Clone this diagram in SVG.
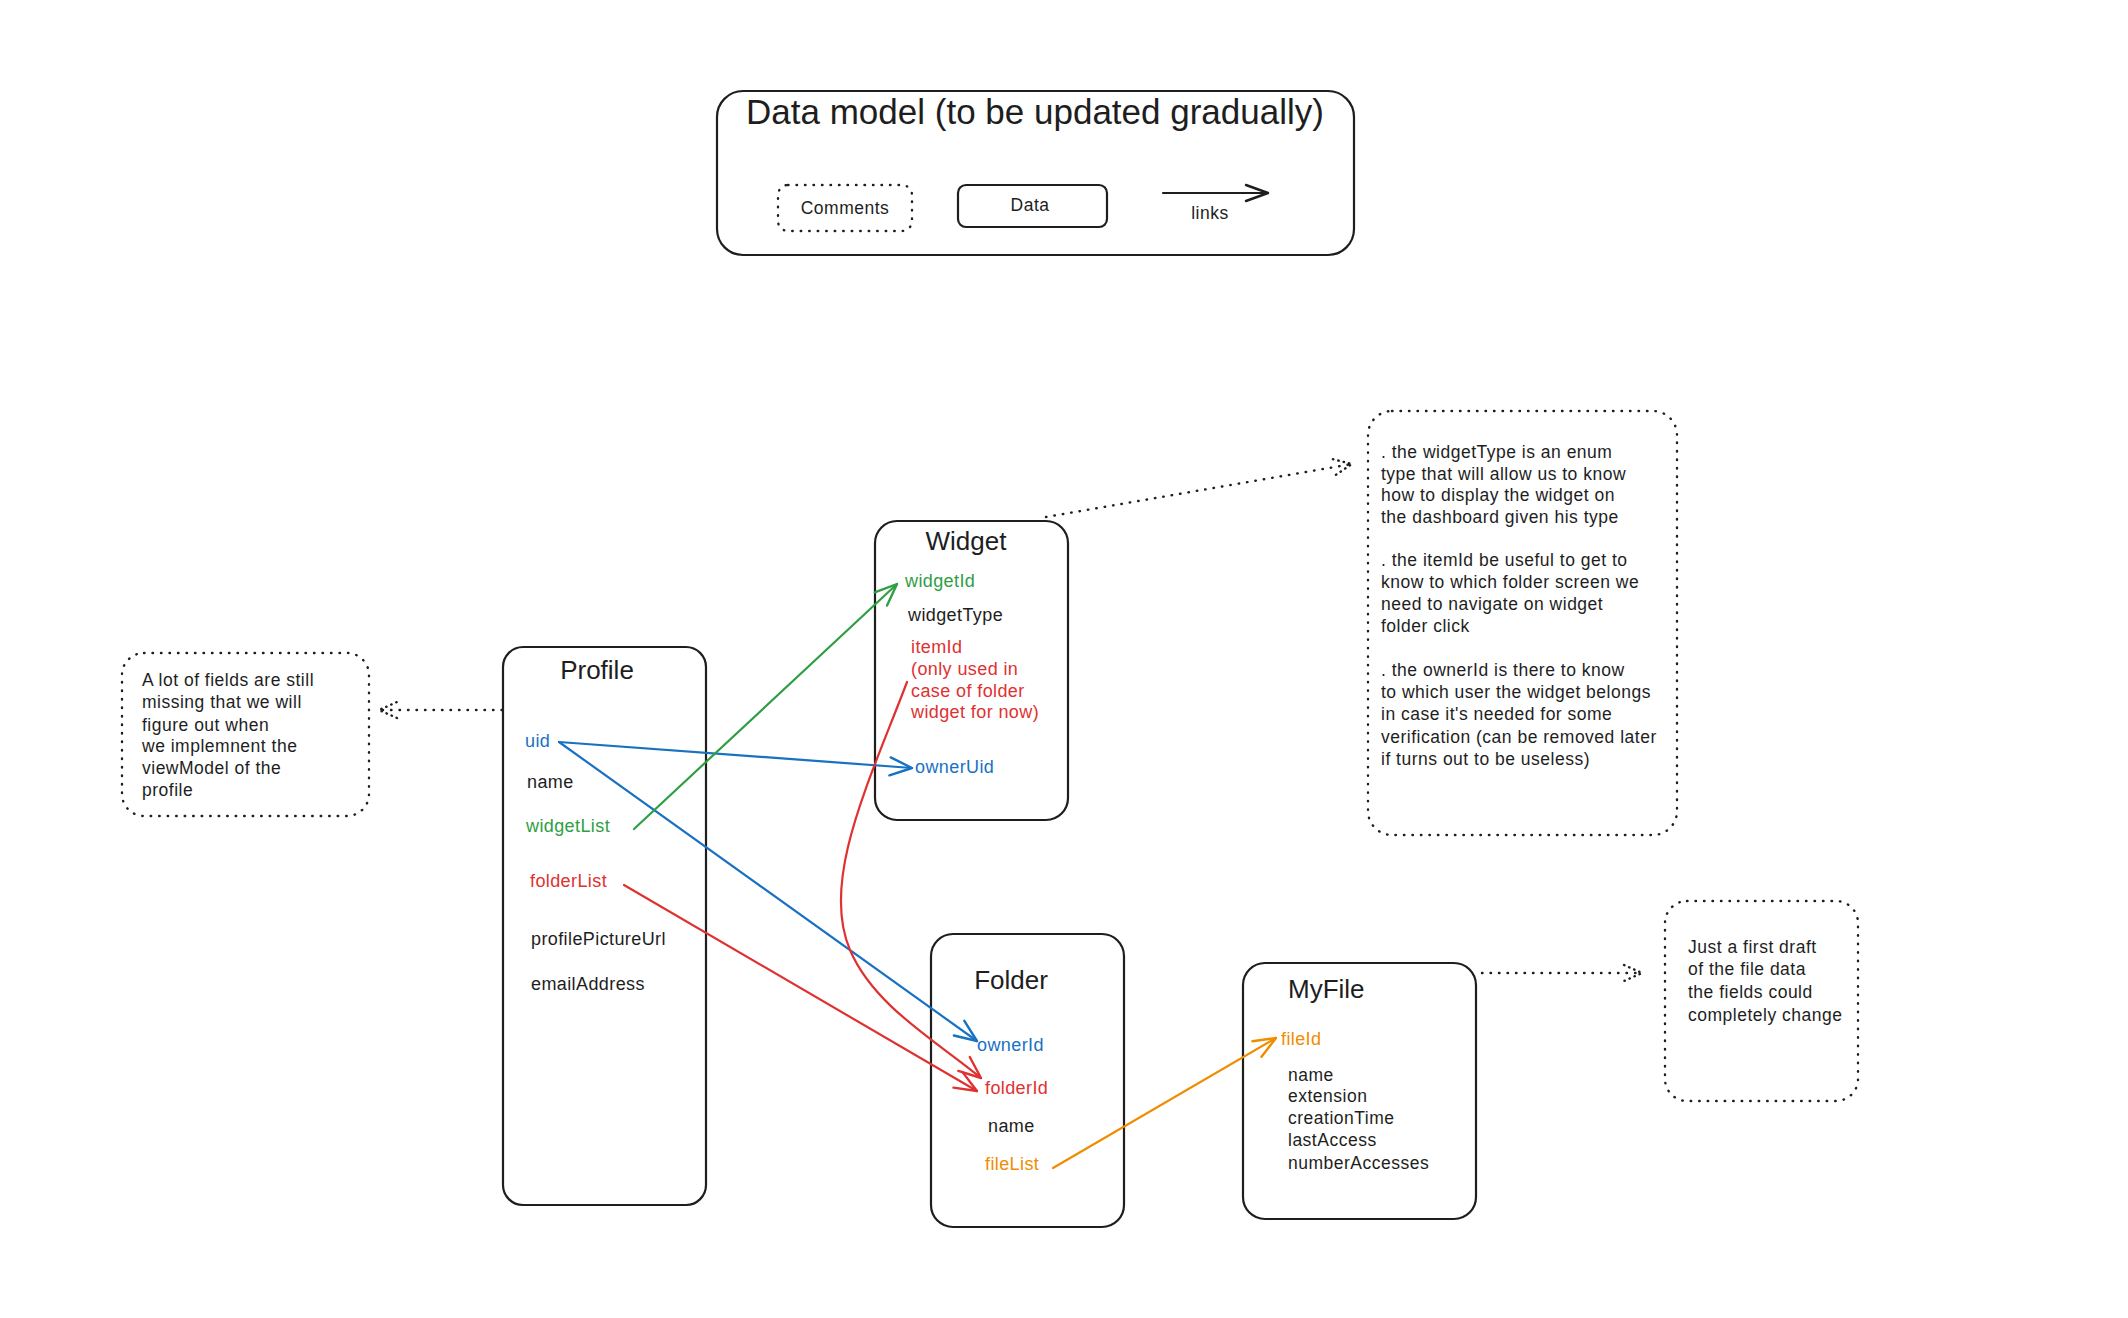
<svg xmlns="http://www.w3.org/2000/svg" width="2128" height="1318" viewBox="0 0 2128 1318">
<style>
  text { font-family: "Liberation Sans", "DejaVu Sans", sans-serif; fill: #1e1e1e; }
  .box { fill: #ffffff; stroke: #1e1e1e; stroke-width: 2.2; }
  .note { fill: none; stroke: #1e1e1e; stroke-width: 2.4; stroke-dasharray: 0.5 8; stroke-linecap: round; }
  .title { font-size: 26px; text-anchor: middle; }
  .title-l { font-size: 26px; }
  .f { font-size: 18px; letter-spacing: 0.4px; }
  .c { font-size: 17.5px; letter-spacing: 0.5px; }
  .blue { fill: #1971c2; }
  .green { fill: #2f9e44; }
  .red { fill: #e03131; }
  .orange { fill: #f08c00; }
  .ln { fill: none; stroke-width: 2.2; stroke-linecap: round; }
  .dot { fill: none; stroke: #1e1e1e; stroke-width: 2.4; stroke-dasharray: 0.5 8; stroke-linecap: round; }
</style>
<defs>
  <marker id="aBlack" markerUnits="userSpaceOnUse" viewBox="-30 -15 40 30" markerWidth="40" markerHeight="30" refX="0" refY="0" orient="auto"><path d="M-22,-8 L0,0 L-22,8" fill="none" stroke="#1e1e1e" stroke-width="2.4" stroke-linecap="round" stroke-linejoin="round"/></marker>
  <marker id="aBlue" markerUnits="userSpaceOnUse" viewBox="-30 -15 40 30" markerWidth="40" markerHeight="30" refX="0" refY="0" orient="auto"><path d="M-22,-9 L0,0 L-22,9" fill="none" stroke="#1971c2" stroke-width="2.4" stroke-linecap="round" stroke-linejoin="round"/></marker>
  <marker id="aGreen" markerUnits="userSpaceOnUse" viewBox="-30 -15 40 30" markerWidth="40" markerHeight="30" refX="0" refY="0" orient="auto"><path d="M-22,-9 L0,0 L-22,9" fill="none" stroke="#2f9e44" stroke-width="2.4" stroke-linecap="round" stroke-linejoin="round"/></marker>
  <marker id="aRed" markerUnits="userSpaceOnUse" viewBox="-30 -15 40 30" markerWidth="40" markerHeight="30" refX="0" refY="0" orient="auto"><path d="M-22,-9 L0,0 L-22,9" fill="none" stroke="#e03131" stroke-width="2.4" stroke-linecap="round" stroke-linejoin="round"/></marker>
  <marker id="aOrange" markerUnits="userSpaceOnUse" viewBox="-30 -15 40 30" markerWidth="40" markerHeight="30" refX="0" refY="0" orient="auto"><path d="M-22,-9 L0,0 L-22,9" fill="none" stroke="#f08c00" stroke-width="2.4" stroke-linecap="round" stroke-linejoin="round"/></marker>
  <marker id="aDot" markerUnits="userSpaceOnUse" viewBox="-30 -15 40 30" markerWidth="40" markerHeight="30" refX="0" refY="0" orient="auto"><path d="M-18,-8 L0,0 L-18,8" fill="none" stroke="#1e1e1e" stroke-width="2.4" stroke-dasharray="0.5 5" stroke-linecap="round"/></marker>
</defs>

<rect width="2128" height="1318" fill="#ffffff"/>

<g id="legend">
  <rect class="box" x="717" y="91" width="637" height="164" rx="26"/>
  <text x="1035" y="124" style="font-size:35px" text-anchor="middle">Data model (to be updated gradually)</text>
  <rect class="note" x="778" y="185" width="134" height="46" rx="10"/>
  <text x="845" y="214" class="c" text-anchor="middle">Comments</text>
  <rect class="box" x="958" y="185" width="149" height="42" rx="8"/>
  <text x="1030" y="211" class="c" text-anchor="middle">Data</text>
  <line x1="1163" y1="193" x2="1268" y2="193" class="ln" stroke="#1e1e1e" marker-end="url(#aBlack)"/>
  <text x="1210" y="219" class="c" text-anchor="middle">links</text>
</g>

<g id="profile-note">
  <rect class="note" x="122" y="653" width="247" height="163" rx="22"/>
  <text class="c" x="142" y="686">A lot of fields are still</text>
  <text class="c" x="142" y="708">missing that we will</text>
  <text class="c" x="142" y="731">figure out when</text>
  <text class="c" x="142" y="752">we implemnent the</text>
  <text class="c" x="142" y="774">viewModel of the</text>
  <text class="c" x="142" y="796">profile</text>
</g>

<g id="profile">
  <rect class="box" x="503" y="647" width="203" height="558" rx="20"/>
  <text class="title" x="597" y="679">Profile</text>
  <text class="f blue" x="525" y="747">uid</text>
  <text class="f" x="527" y="788">name</text>
  <text class="f green" x="526" y="832">widgetList</text>
  <text class="f red" x="530" y="887">folderList</text>
  <text class="f" x="531" y="945">profilePictureUrl</text>
  <text class="f" x="531" y="990">emailAddress</text>
</g>

<g id="widget">
  <rect class="box" x="875" y="521" width="193" height="299" rx="22"/>
  <text class="title" x="966" y="550">Widget</text>
  <text class="f green" x="905" y="587">widgetId</text>
  <text class="f" x="908" y="621">widgetType</text>
  <text class="f red" x="911" y="653">itemId</text>
  <text class="f red" x="911" y="675">(only used in</text>
  <text class="f red" x="911" y="697">case of folder</text>
  <text class="f red" x="911" y="718">widget for now)</text>
  <text class="f blue" x="915" y="773">ownerUid</text>
</g>

<g id="widget-note">
  <rect class="note" x="1368" y="411" width="309" height="424" rx="24"/>
  <text class="c" x="1381" y="458">. the widgetType is an enum</text>
  <text class="c" x="1381" y="480">type that will allow us to know</text>
  <text class="c" x="1381" y="501">how to display the widget on</text>
  <text class="c" x="1381" y="523">the dashboard given his type</text>
  <text class="c" x="1381" y="566">. the itemId be useful to get to</text>
  <text class="c" x="1381" y="588">know to which folder screen we</text>
  <text class="c" x="1381" y="610">need to navigate on widget</text>
  <text class="c" x="1381" y="632">folder click</text>
  <text class="c" x="1381" y="676">. the ownerId is there to know</text>
  <text class="c" x="1381" y="698">to which user the widget belongs</text>
  <text class="c" x="1381" y="720">in case it's needed for some</text>
  <text class="c" x="1381" y="743">verification (can be removed later</text>
  <text class="c" x="1381" y="765">if turns out to be useless)</text>
</g>

<g id="folder">
  <rect class="box" x="931" y="934" width="193" height="293" rx="22"/>
  <text class="title" x="1011" y="989">Folder</text>
  <text class="f blue" x="977" y="1051">ownerId</text>
  <text class="f red" x="985" y="1094">folderId</text>
  <text class="f" x="988" y="1132">name</text>
  <text class="f orange" x="985" y="1170">fileList</text>
</g>

<g id="myfile">
  <rect class="box" x="1243" y="963" width="233" height="256" rx="22"/>
  <text class="title-l" x="1288" y="998">MyFile</text>
  <text class="f orange" x="1281" y="1045">fileId</text>
  <text class="c" x="1288" y="1081">name</text>
  <text class="c" x="1288" y="1102">extension</text>
  <text class="c" x="1288" y="1124">creationTime</text>
  <text class="c" x="1288" y="1146">lastAccess</text>
  <text class="c" x="1288" y="1169">numberAccesses</text>
</g>

<g id="myfile-note">
  <rect class="note" x="1665" y="901" width="193" height="200" rx="22"/>
  <text class="c" x="1688" y="953">Just a first draft</text>
  <text class="c" x="1688" y="975">of the file data</text>
  <text class="c" x="1688" y="998">the fields could</text>
  <text class="c" x="1688" y="1021">completely change</text>
</g>

<g id="connectors">
  <line class="dot" x1="502" y1="710" x2="379" y2="710" marker-end="url(#aDot)"/>
  <line class="dot" x1="1046" y1="517" x2="1352" y2="464" marker-end="url(#aDot)"/>
  <line class="dot" x1="1482" y1="973" x2="1642" y2="973" marker-end="url(#aDot)"/>
  <line class="ln" stroke="#1971c2" x1="559" y1="742" x2="912" y2="768" marker-end="url(#aBlue)"/>
  <line class="ln" stroke="#1971c2" x1="559" y1="742" x2="977" y2="1041" marker-end="url(#aBlue)"/>
  <line class="ln" stroke="#2f9e44" x1="634" y1="829" x2="897" y2="584" marker-end="url(#aGreen)"/>
  <line class="ln" stroke="#e03131" x1="624" y1="885" x2="977" y2="1091" marker-end="url(#aRed)"/>
  <path class="ln" stroke="#e03131" d="M907,682 C870,780 820,880 850,950 C874,1006 935,1040 981,1078" marker-end="url(#aRed)"/>
  <line class="ln" stroke="#f08c00" x1="1053" y1="1168" x2="1276" y2="1038" marker-end="url(#aOrange)"/>
</g>
</svg>
